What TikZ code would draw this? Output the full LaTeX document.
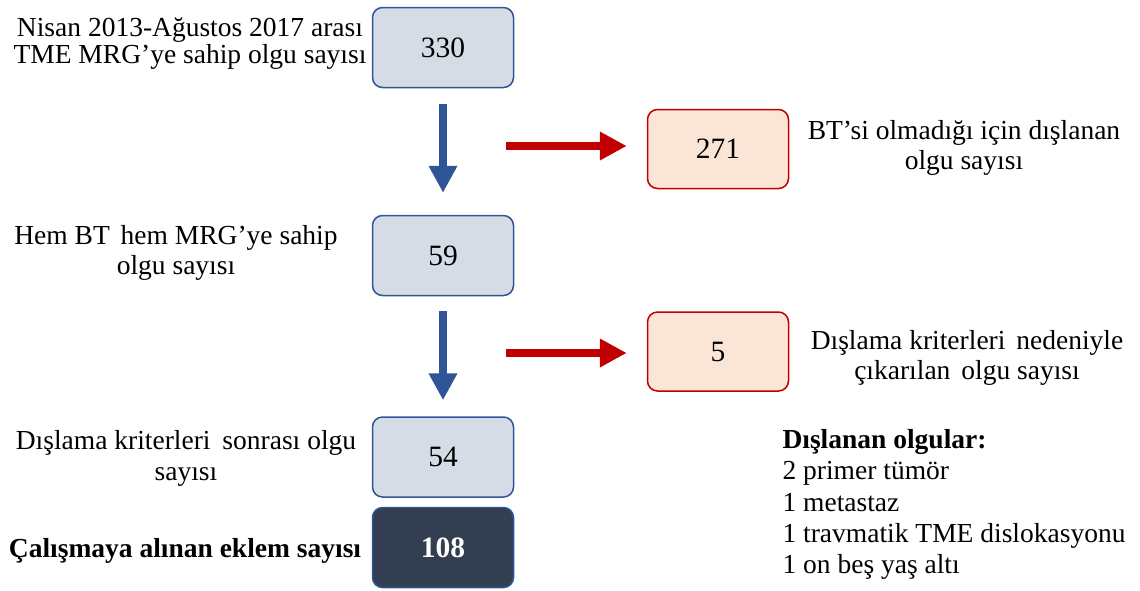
\documentclass[tikz,border=0pt]{standalone}
\usepackage{fontspec}
\setmainfont{Liberation Serif}
\usetikzlibrary{arrows.meta}
\usepackage{xcolor}
\definecolor{boxblue}{HTML}{2F5597}
\definecolor{boxgray}{HTML}{D6DCE5}
\definecolor{boxred}{HTML}{C00000}
\definecolor{boxpeach}{HTML}{FBE5D6}
\definecolor{boxdark}{HTML}{333F50}

\begin{document}
\begin{tikzpicture}[x=1pt, y=-1pt,
 every node/.style={font=\fontsize{27.5}{30.5}\selectfont},
 graybox/.style={draw=boxblue, fill=boxgray, line width=1.5pt, rounded corners=10pt, minimum width=141pt, minimum height=80pt, font=\fontsize{29.5}{30.5}\selectfont},
 redbox/.style={draw=boxred, fill=boxpeach, line width=1.5pt, rounded corners=10pt, minimum width=141pt, minimum height=79pt, font=\fontsize{29.5}{30.5}\selectfont},
 darkbox/.style={graybox, fill=boxdark, text=white, font=\fontsize{29.5}{30.5}\selectfont\bfseries},
 sidetext/.style={align=center},
 downarrow/.style={draw=boxblue, line width=8pt, -{Triangle[width=27pt,length=27pt]}},
 rightarrow/.style={draw=boxred, line width=8pt, -{Triangle[width=27pt,length=27pt]}, shorten >=20pt}]
\useasboundingbox (0,0) rectangle (1140,590);
% boxes
\node[graybox] (n330) at (443,47.5) {330};
\node[graybox] (n59) at (443,255.5) {59};
\node[graybox] (n54) at (443,457) {54};
\node[darkbox] (n108) at (443,547.5) {108};
\node[redbox] (n271) at (718,149) {271};
\node[redbox] (n5) at (718,351.5) {5};
% texts
\node[sidetext, font=\fontsize{27.5}{27}\selectfont] (t330) at (190,44) {Nisan 2013-Ağustos 2017 arası\\TME MRG’ye sahip olgu sayısı};
\node[sidetext] (t59) at (176,253) {Hem BT\hspace{4pt} hem MRG’ye sahip\\olgu sayısı};
\node[sidetext] (t54) at (186,458.5) {Dışlama kriterleri\hspace{5pt} sonrası olgu\\sayısı};
\node[font=\fontsize{27.5}{30.5}\selectfont\bfseries] (t108) at (185,551) {Çalışmaya alınan eklem sayısı};
\node[sidetext] (t271) at (964,148) {BT’si olmadığı için dışlanan\\olgu sayısı};
\node[sidetext] (t5) at (967,358) {Dışlama kriterleri\hspace{4pt} nedeniyle\\çıkarılan\hspace{4pt} olgu sayısı};
\node[align=left, anchor=west, font=\fontsize{27.5}{31.25}\selectfont] (tlist) at (779,504.5) {\textbf{Dışlanan olgular:}\\2 primer tümör\\1 metastaz\\1 travmatik TME dislokasyonu\\1 on beş yaş altı};
% arrows
\draw[downarrow, shorten <=16pt, shorten >=22pt] (n330) -- (n59);
\draw[downarrow, shorten <=15pt, shorten >=16pt] (n59) -- (n54);
\coordinate (r271) at (506,146);
\coordinate (r5) at (506,353);
\draw[rightarrow] (r271) -- (r271 -| n271.west);
\draw[rightarrow] (r5) -- (r5 -| n5.west);
\end{tikzpicture}
\end{document}
